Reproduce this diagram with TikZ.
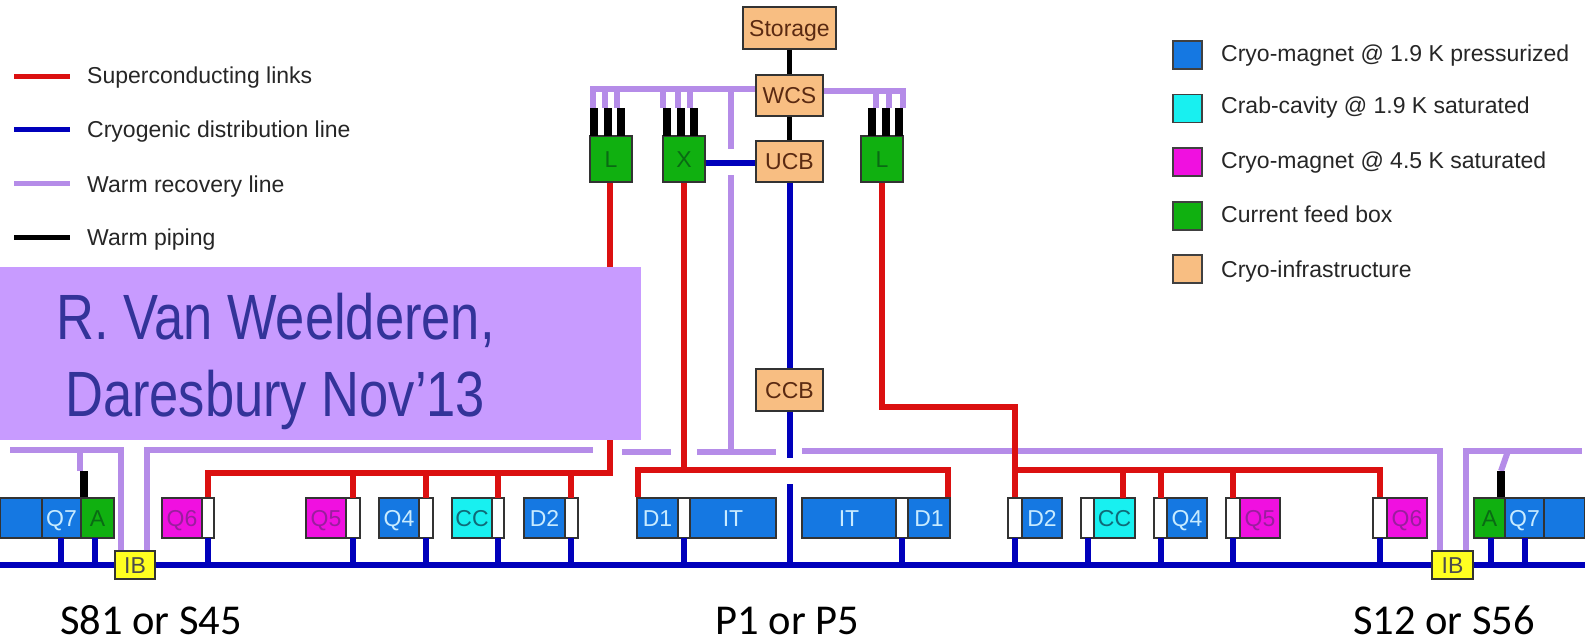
\documentclass[tikz,border=0pt]{standalone}
\usepackage{fontspec}
\setmainfont{Liberation Sans}
\newfontfamily\calib{Carlito}
\definecolor{cmag}{HTML}{1578E2}
\definecolor{ccyan}{HTML}{18F0F0}
\definecolor{cpink}{HTML}{F010E0}
\definecolor{cgreen}{HTML}{10B010}
\definecolor{corange}{HTML}{F8BE82}
\definecolor{cyell}{HTML}{FFFF20}
\definecolor{lred}{HTML}{DB1010}
\definecolor{lblue}{HTML}{0000BB}
\definecolor{lpurp}{HTML}{B58CE8}
\definecolor{ovfill}{HTML}{C89BFF}
\definecolor{ovtext}{HTML}{333399}
\definecolor{tmag}{HTML}{C8EBFF}
\definecolor{tpink}{HTML}{9A1E9E}
\definecolor{tgreen}{HTML}{0A6A14}
\definecolor{tcyan}{HTML}{0F6A78}
\definecolor{tor}{HTML}{5A2A12}
\definecolor{tleg}{HTML}{262626}
\tikzset{
  x=1pt,y=-1pt,
  boxn/.style={draw=black!80,line width=1.2pt,inner sep=0pt,text height=16.5pt,text depth=0pt,font=\fontsize{23}{23}\selectfont,anchor=center},
  legsw/.style={draw=black!75,line width=1.4pt,inner sep=0pt,minimum width=29pt,minimum height=28pt},
  legtx/.style={anchor=base west,inner sep=0pt,text=tleg,font=\fontsize{23}{23}\selectfont},
  redl/.style={draw=lred,line width=6pt},
  bluel/.style={draw=lblue,line width=6pt},
  purpl/.style={draw=lpurp,line width=6pt},
  blackl/.style={draw=black,line width=5pt},
  stub/.style={draw=black,line width=8pt},
  botl/.style={anchor=base,inner sep=0pt,font=\calib\fontsize{42.5}{42.5}\selectfont,text=black},
  bigt/.style={anchor=base west,inner sep=0pt,text=ovtext,font=\fontsize{64}{64}\selectfont,xscale=0.82},
}
\newcommand{\bx}[7]{% name x0 y0 x1 y1 style label
  \pgfmathsetmacro{\bw}{#4-#2}\pgfmathsetmacro{\bh}{#5-#3}%
  \pgfmathsetmacro{\cx}{(#2+#4)/2}\pgfmathsetmacro{\cy}{(#3+#5)/2}%
  \node[boxn,#6,minimum width=\bw pt,minimum height=\bh pt] (#1) at (\cx,\cy) {#7};}
\begin{document}
\begin{tikzpicture}
\useasboundingbox (0,0) rectangle (1585,643);
\fill[white] (0,0) rectangle (1585,643);
% free ends
\coordinate (busL) at (0,565);
\coordinate (busR) at (1585,565);
\coordinate (pL0) at (10,450);
\coordinate (pL1) at (121,450);
\coordinate (pL2) at (147,450);
\coordinate (pL3) at (593,450);
\coordinate (pM0) at (622,452);
\coordinate (pM1) at (671,452);
\coordinate (pM2) at (697,452);
\coordinate (pM3) at (776,452);
\coordinate (pR0) at (802,451);
\coordinate (pR1) at (1440,451);
\coordinate (pR2) at (1466,451);
\coordinate (pR3) at (1582,451);
\coordinate (pT0) at (590,89);
\coordinate (pT1) at (906,91);
\coordinate (pV0) at (731,89);
\coordinate (pV1) at (731,149);
\coordinate (pV2) at (731,175);
\coordinate (pV3) at (731,452);
\coordinate (b0) at (789.5,458);
\coordinate (b1) at (789.5,484);
\coordinate (rL) at (610,473);
\coordinate (rM0) at (638,470);
\coordinate (rM1) at (684,470);
\coordinate (rM2) at (948,470);
\coordinate (rR0) at (882,407);
\coordinate (rR1) at (1015,407);
\coordinate (rR2) at (1015,470);
\coordinate (rR3) at (1380,470);
\coordinate (wL) at (208,473);
\coordinate (kl) at (80,471);
\coordinate (kl2) at (84,471);
\coordinate (kr) at (1501,471);
\coordinate (krt) at (1508,451);
% boxes
\bx{e1}{0}{498}{42}{538}{fill=cmag}{}
\bx{q7l}{42}{498}{81}{538}{fill=cmag,text=tmag}{Q7}
\bx{al}{81}{498}{114}{538}{fill=cgreen,text=tgreen}{A}
\bx{q6l}{162}{498}{202}{538}{fill=cpink,text=tpink}{Q6}
\bx{wq6l}{202}{498}{214}{538}{fill=white}{}
\bx{q5l}{306}{498}{346}{538}{fill=cpink,text=tpink}{Q5}
\bx{wq5l}{346}{498}{360}{538}{fill=white}{}
\bx{q4l}{379}{498}{419}{538}{fill=cmag,text=tmag}{Q4}
\bx{wq4l}{419}{498}{433}{538}{fill=white}{}
\bx{ccl}{452}{498}{492}{538}{fill=ccyan,text=tcyan}{CC}
\bx{wccl}{492}{498}{504}{538}{fill=white}{}
\bx{d2l}{524}{498}{565}{538}{fill=cmag,text=tmag}{D2}
\bx{wd2l}{565}{498}{578}{538}{fill=white}{}
\bx{d1l}{637}{498}{678}{538}{fill=cmag,text=tmag}{D1}
\bx{wd1l}{678}{498}{690}{538}{fill=white}{}
\bx{itl}{690}{498}{776}{538}{fill=cmag,text=tmag}{IT}
\bx{itr}{802}{498}{896}{538}{fill=cmag,text=tmag}{IT}
\bx{wd1r}{896}{498}{908}{538}{fill=white}{}
\bx{d1r}{908}{498}{950}{538}{fill=cmag,text=tmag}{D1}
\bx{wd2r}{1008}{498}{1022}{538}{fill=white}{}
\bx{d2r}{1022}{498}{1062}{538}{fill=cmag,text=tmag}{D2}
\bx{wccr}{1081}{498}{1094}{538}{fill=white}{}
\bx{ccr}{1094}{498}{1135}{538}{fill=ccyan,text=tcyan}{CC}
\bx{wq4r}{1154}{498}{1167}{538}{fill=white}{}
\bx{q4r}{1167}{498}{1207}{538}{fill=cmag,text=tmag}{Q4}
\bx{wq5r}{1226}{498}{1240}{538}{fill=white}{}
\bx{q5r}{1240}{498}{1280}{538}{fill=cpink,text=tpink}{Q5}
\bx{wq6r}{1373}{498}{1387}{538}{fill=white}{}
\bx{q6r}{1387}{498}{1427}{538}{fill=cpink,text=tpink}{Q6}
\bx{ar}{1474}{498}{1505}{538}{fill=cgreen,text=tgreen}{A}
\bx{q7r}{1505}{498}{1544}{538}{fill=cmag,text=tmag}{Q7}
\bx{e2}{1544}{498}{1585}{538}{fill=cmag}{}
\bx{ibl}{115}{551}{155}{579}{fill=cyell,text=black!70}{IB}
\bx{ibr}{1432}{551}{1473}{579}{fill=cyell,text=black!70}{IB}
\bx{storage}{743}{7}{836}{49}{fill=corange,text=tor}{Storage}
\bx{wcs}{756}{75}{823}{116}{fill=corange,text=tor}{WCS}
\bx{ucb}{756}{141}{823}{182}{fill=corange,text=tor}{UCB}
\bx{ccb}{756}{369}{823}{411}{fill=corange,text=tor}{CCB}
\bx{fL}{590}{136}{632}{182}{fill=cgreen,text=tgreen}{L}
\bx{fX}{663}{136}{705}{182}{fill=cgreen,text=tgreen}{X}
\bx{fR}{861}{136}{903}{182}{fill=cgreen,text=tgreen}{L}
% warm recovery lines
\draw[purpl] (pL0) -- (pL1) -- (pL1 |- ibl.north);
\draw[purpl] (pL2 |- ibl.north) -- (pL2) -- (pL3);
\draw[purpl] (pM0) -- (pM1);
\draw[purpl] (pM2) -- (pM3);
\draw[purpl] (pR0) -- (pR1) -- (pR1 |- ibr.north);
\draw[purpl] (pR2 |- ibr.north) -- (pR2) -- (pR3);
\draw[purpl] (kl) -- (kl |- pL0);
\draw[purpl] (kr) -- (krt);
\draw[purpl] (pT0) -- (wcs.west |- pT0);
\draw[purpl] (wcs.east |- pT1) -- (pT1);
\draw[purpl] (pV0) -- (pV1);
\draw[purpl] (pV2) -- (pV3);
\foreach \px in {593,605,617,663,678,690}{\draw[purpl] (\px,86) -- (\px,108);}
\foreach \px in {876,889,903}{\draw[purpl] (\px,88) -- (\px,108);}
% warm piping
\draw[blackl] (storage.south) -- (wcs.north);
\draw[blackl] (wcs.south) -- (ucb.north);
\draw[stub] (kl2) -- (kl2 |- al.north);
\draw[stub] (kr) -- (kr |- ar.north);
\foreach \fx in {594,608,621,667,681,694}{\draw[stub] (\fx,108) -- (\fx,136);}
\foreach \fx in {872,886,899}{\draw[stub] (\fx,108) -- (\fx,136);}
% superconducting links
\draw[redl] (fL.south -| rL) -- (rL) -- (wL) -- (wL |- wq6l.north);
\foreach \rx in {353,426,498,571}{\draw[redl] (\rx,473) -- (\rx,498);}
\draw[redl] (fX.south) -- (rM1);
\draw[redl] (d1l.north -| rM0) -- (rM0) -- (rM2) -- (d1r.north -| rM2);
\draw[redl] (fR.south) -- (rR0) -- (rR1) -- (wd2r.north);
\draw[redl] (rR2) -- (rR3) -- (wq6r.north);
\foreach \rx in {1123,1161,1233}{\draw[redl] (\rx,470) -- (\rx,498);}
% cryogenic line
\draw[bluel] (busL) -- (ibl.west);
\draw[bluel] (ibl.east) -- (ibr.west);
\draw[bluel] (ibr.east) -- (busR);
\draw[bluel] ([yshift=-1.5pt]fX.east |- ucb.west) -- ([yshift=-1.5pt]ucb.west);
\draw[bluel] (ucb.south) -- (ccb.north);
\draw[bluel] (ccb.south) -- (b0);
\draw[bluel] (b1) -- (b1 |- busL);
\foreach \dx in {61,95,208,353,426,498,571,684,902,1015,1088,1161,1233,1380,1491,1525}{
  \draw[bluel] (\dx,538) -- (\dx,565);}
% legends
\foreach \ly/\lc/\ln in {76/lred/a,129/lblue/b,183/lpurp/c,237/black/d}{
  \coordinate (l\ln a) at (14,\ly);\coordinate (l\ln b) at (70,\ly);
  \draw[draw=\lc,line width=5pt] (l\ln a) -- (l\ln b);}
\node[legtx] (t1) at (87,83) {Superconducting links};
\node[legtx] (t2) at (87,137) {Cryogenic distribution line};
\node[legtx] (t3) at (87,192) {Warm recovery line};
\node[legtx] (t4) at (87,245) {Warm piping};
\node[legsw,fill=cmag] (s1) at (1187.5,55) {};
\node[legsw,fill=ccyan] (s2) at (1187.5,108.5) {};
\node[legsw,fill=cpink] (s3) at (1187.5,162) {};
\node[legsw,fill=cgreen] (s4) at (1187.5,216) {};
\node[legsw,fill=corange] (s5) at (1187.5,269) {};
\node[legtx] (u1) at (1221,61) {Cryo-magnet @ 1.9 K pressurized};
\node[legtx] (u2) at (1221,113) {Crab-cavity @ 1.9 K saturated};
\node[legtx] (u3) at (1221,168) {Cryo-magnet @ 4.5 K saturated};
\node[legtx] (u4) at (1221,222) {Current feed box};
\node[legtx] (u5) at (1221,277) {Cryo-infrastructure};
\node[botl] (lb1) at (151,634.5) {S81 or S45};
\node[botl] (lb2) at (787.5,634.5) {P1 or P5};
\node[botl] (lb3) at (1444,634.5) {S12 or S56};
% overlay
\fill[ovfill] (0,267) rectangle (641,440);
\node[bigt] (v1) at (56,339) {R. Van Weelderen,};
\node[bigt] (v2) at (65,416) {Daresbury Nov’13};
\end{tikzpicture}
\end{document}
